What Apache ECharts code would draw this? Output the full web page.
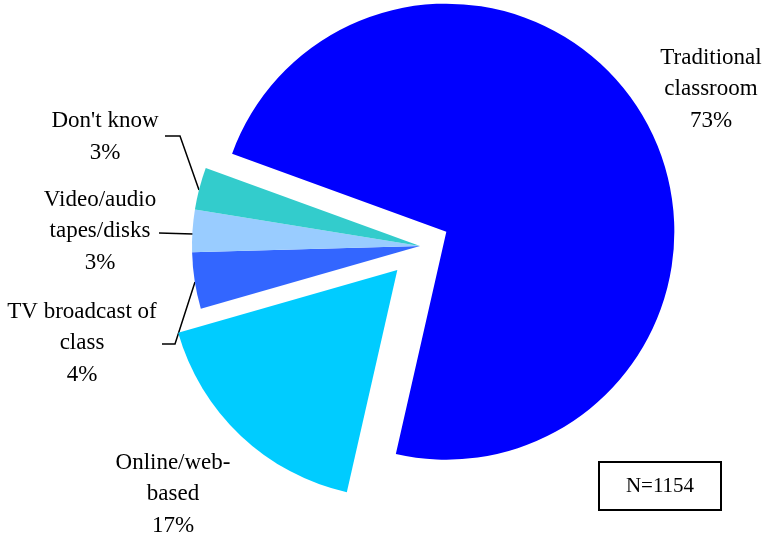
<!DOCTYPE html>
<html>
<head>
<meta charset="utf-8">
<script src="https://cdn.jsdelivr.net/npm/echarts@6/dist/echarts.min.js"></script>
<style>
  html, body { margin: 0; padding: 0; background: #fff; }
  #chart { width: 765px; height: 537px; }
</style>
</head>
<body>
<div id="chart"></div>
<script>
// Preferred mode of taking a course (share of respondents)
const categories = ['Traditional\nclassroom', 'Online/web-\nbased', 'TV broadcast of\nclass', 'Video/audio\ntapes/disks', "Don't know"];
const shares = [73, 17, 4, 3, 3];
const sliceColors = ['#0000FF', '#00CCFF', '#3366FF', '#99CCFF', '#33CCCC'];
const sampleNote = 'N=1154';

// Where each slice's label block sits, plus its leader line (if any)
const labelSpots = [
  { x: 711, y: 89, line: null },
  { x: 173, y: 494, line: null },
  { x: 82, y: 343, line: [[162, 344], [175, 344], [195, 282]] },
  { x: 100, y: 231, line: [[159, 233], [176, 233.5], [193, 234]] },
  { x: 105, y: 137, line: [[165, 136], [180, 136], [199, 190]] }
];

const FONT = '"Liberation Serif", "Times New Roman", serif';
const CENTER = [420, 246];
const START = 160;

// Mid angle (degrees, counter-clockwise from 3 o'clock) of slice i, slices running clockwise
function midAngle(i) {
  const total = shares.reduce(function (a, b) { return a + b; }, 0);
  let before = 0;
  for (let k = 0; k < i; k++) before += shares[k];
  return START - (before + shares[i] / 2) / total * 360;
}

// One pie layer per explode distance; slices not drawn by a layer are left invisible
function pieLayer(visible, offset, alongSlice) {
  const a = midAngle(alongSlice) * Math.PI / 180;
  return {
    type: 'pie',
    center: [CENTER[0] + offset * Math.cos(a), CENTER[1] - offset * Math.sin(a)],
    radius: 228,
    startAngle: START,
    clockwise: true,
    avoidLabelOverlap: false,
    animation: false,
    silent: true,
    emphasis: { disabled: true },
    label: {
      show: true,
      formatter: '{b}\n{c}%',
      fontFamily: FONT,
      fontSize: 23,
      lineHeight: 31.5,
      color: '#000',
      align: 'center'
    },
    labelLine: { show: true, lineStyle: { color: '#000', width: 1.5 } },
    labelLayout: function (p) {
      const s = labelSpots[p.dataIndex];
      const out = { x: s.x, y: s.y, align: 'center', verticalAlign: 'middle' };
      if (s.line) out.labelLinePoints = s.line;
      return out;
    },
    data: categories.map(function (name, i) {
      const on = visible.indexOf(i) >= 0;
      return {
        name: name,
        value: shares[i],
        itemStyle: { color: sliceColors[i], opacity: on ? 1 : 0 },
        label: { show: on },
        labelLine: { show: on && !!labelSpots[i].line }
      };
    })
  };
}

const chart = echarts.init(document.getElementById('chart'), null, { renderer: 'canvas' });
chart.setOption({
  backgroundColor: '#fff',
  animation: false,
  series: [
    pieLayer([2, 3, 4], 0, 2),
    pieLayer([0], 30, 0),
    pieLayer([1], 33, 1)
  ],
  graphic: [{
    type: 'group',
    left: 598,
    top: 461,
    children: [
      { type: 'rect', shape: { x: 0, y: 0, width: 122, height: 48 },
        style: { fill: '#fff', stroke: '#000', lineWidth: 2 } },
      { type: 'text', x: 61, y: 24,
        style: { text: sampleNote, font: '21px ' + FONT, fill: '#000',
                 align: 'center', verticalAlign: 'middle',
                 textAlign: 'center', textVerticalAlign: 'middle' } }
    ]
  }]
});
</script>
</body>
</html>
